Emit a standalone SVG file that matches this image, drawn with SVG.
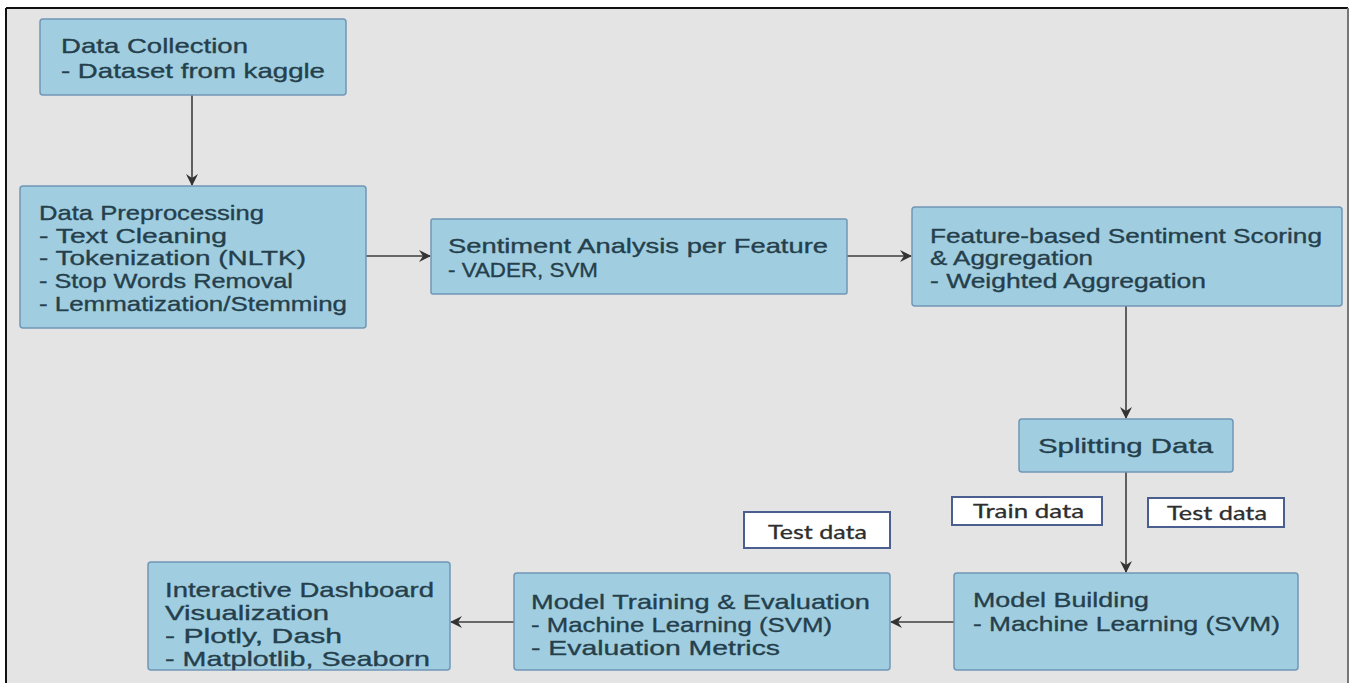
<svg xmlns="http://www.w3.org/2000/svg" width="1351" height="683" viewBox="0 0 1351 683">
<defs>
<style>
.node{fill:#a0cee0;stroke:#7097b6;stroke-width:1.5}
.t{font-family:"Liberation Sans",Arial,sans-serif;font-size:21px;fill:#253f4c;stroke:#253f4c;stroke-width:0.35}
.lbl{fill:#ffffff;stroke:#4a5f90;stroke-width:2}
.lt{font-family:Lato,"Open Sans",sans-serif;font-size:20px;fill:#2e2e2e;stroke:#2e2e2e;stroke-width:0.3}
.edge{stroke:#3e3e3e;stroke-width:1.6;fill:none;marker-end:url(#arr)}
</style>
<marker id="arr" viewBox="0 0 12 12" refX="11" refY="6" markerWidth="12" markerHeight="12" markerUnits="userSpaceOnUse" orient="auto">
<path d="M0,0 L12,6 L0,12 L4,6 z" fill="#333333"/>
</marker>
</defs>
<rect x="0" y="0" width="1351" height="683" fill="#ffffff"/>
<rect x="6" y="8" width="1342" height="690" fill="#e4e4e4"/>
<line x1="6" y1="8" x2="1348" y2="8" stroke="#111" stroke-width="2"/>
<line x1="6" y1="8" x2="6" y2="683" stroke="#111" stroke-width="2"/>
<line x1="1348" y1="8" x2="1348" y2="683" stroke="#777" stroke-width="2"/>

<g id="connectors">
<line class="edge" x1="192" y1="95" x2="192" y2="185"/>
<line class="edge" x1="366" y1="256" x2="430" y2="256"/>
<line class="edge" x1="847" y1="256" x2="911" y2="256"/>
<line class="edge" x1="1126" y1="306" x2="1126" y2="418"/>
<line class="edge" x1="1126" y1="472" x2="1126" y2="572"/>
<line class="edge" x1="954" y1="622" x2="891" y2="622"/>
<line class="edge" x1="514" y1="622" x2="451" y2="622"/>
</g>

<g id="data-collection">
<rect class="node" x="40" y="19" width="306" height="76" rx="3"/>
<text class="t" x="61" y="53" textLength="187" lengthAdjust="spacingAndGlyphs">Data Collection</text>
<text class="t" x="61" y="78" textLength="264" lengthAdjust="spacingAndGlyphs">- Dataset from kaggle</text>
</g>

<g id="data-preprocessing">
<rect class="node" x="20" y="186" width="346" height="142" rx="3"/>
<text class="t" x="39" y="220" textLength="225" lengthAdjust="spacingAndGlyphs">Data Preprocessing</text>
<text class="t" x="39" y="243" textLength="188" lengthAdjust="spacingAndGlyphs">- Text Cleaning</text>
<text class="t" x="39" y="265" textLength="267" lengthAdjust="spacingAndGlyphs">- Tokenization (NLTK)</text>
<text class="t" x="39" y="288" textLength="254" lengthAdjust="spacingAndGlyphs">- Stop Words Removal</text>
<text class="t" x="39" y="311" textLength="308" lengthAdjust="spacingAndGlyphs">- Lemmatization/Stemming</text>
</g>

<g id="sentiment-analysis">
<rect class="node" x="431" y="219" width="416" height="75" rx="2"/>
<text class="t" x="448" y="253" textLength="380" lengthAdjust="spacingAndGlyphs">Sentiment Analysis per Feature</text>
<text class="t" x="448" y="277" textLength="150" lengthAdjust="spacingAndGlyphs">- VADER, SVM</text>
</g>

<g id="feature-scoring">
<rect class="node" x="912" y="207" width="430" height="99" rx="3"/>
<text class="t" x="930" y="243" textLength="392" lengthAdjust="spacingAndGlyphs">Feature-based Sentiment Scoring</text>
<text class="t" x="930" y="265" textLength="163" lengthAdjust="spacingAndGlyphs">&amp; Aggregation</text>
<text class="t" x="930" y="288" textLength="276" lengthAdjust="spacingAndGlyphs">- Weighted Aggregation</text>
</g>

<g id="splitting-data">
<rect class="node" x="1019" y="419" width="214" height="53" rx="3"/>
<text class="t" x="1038" y="453" textLength="175" lengthAdjust="spacingAndGlyphs">Splitting Data</text>
</g>

<g id="train-data-label">
<rect class="lbl" x="952" y="497" width="150" height="28"/>
<text class="lt" x="973" y="518" textLength="111" lengthAdjust="spacingAndGlyphs">Train data</text>
</g>

<g id="test-data-label-right">
<rect class="lbl" x="1148" y="498" width="136" height="29"/>
<text class="lt" x="1167" y="520" textLength="100" lengthAdjust="spacingAndGlyphs">Test data</text>
</g>

<g id="model-building">
<rect class="node" x="954" y="573" width="344" height="97" rx="3"/>
<text class="t" x="973" y="607" textLength="176" lengthAdjust="spacingAndGlyphs">Model Building</text>
<text class="t" x="973" y="631" textLength="307" lengthAdjust="spacingAndGlyphs">- Machine Learning (SVM)</text>
</g>

<g id="test-data-label-middle">
<rect class="lbl" x="744" y="512" width="146" height="36"/>
<text class="lt" x="768" y="539" textLength="99" lengthAdjust="spacingAndGlyphs">Test data</text>
</g>

<g id="model-training">
<rect class="node" x="514" y="573" width="376" height="97" rx="3"/>
<text class="t" x="531" y="609" textLength="339" lengthAdjust="spacingAndGlyphs">Model Training &amp; Evaluation</text>
<text class="t" x="531" y="632" textLength="301" lengthAdjust="spacingAndGlyphs">- Machine Learning (SVM)</text>
<text class="t" x="531" y="655" textLength="249" lengthAdjust="spacingAndGlyphs">- Evaluation Metrics</text>
</g>

<g id="dashboard">
<rect class="node" x="148" y="562" width="302" height="108" rx="3"/>
<text class="t" x="165" y="597" textLength="269" lengthAdjust="spacingAndGlyphs">Interactive Dashboard</text>
<text class="t" x="165" y="620" textLength="164" lengthAdjust="spacingAndGlyphs">Visualization</text>
<text class="t" x="165" y="643" textLength="177" lengthAdjust="spacingAndGlyphs">- Plotly, Dash</text>
<text class="t" x="165" y="666" textLength="265" lengthAdjust="spacingAndGlyphs">- Matplotlib, Seaborn</text>
</g>
</svg>
